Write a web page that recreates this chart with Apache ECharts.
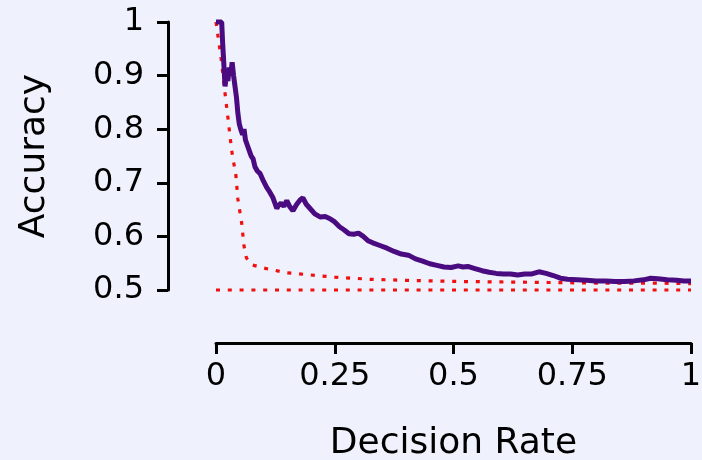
<!DOCTYPE html>
<html>
<head>
<meta charset="utf-8">
<script src="https://cdn.jsdelivr.net/npm/echarts@6/dist/echarts.min.js"></script>
<style>
html,body{margin:0;padding:0;background:#eff1fc;}
#c{width:702px;height:460px;}
</style>
</head>
<body>
<div id="c"></div>
<script>
// Accuracy vs decision rate (model)
const modelX = [0,0.012,0.014,0.016,0.019,0.022,0.025,0.028,0.031,0.034,0.037,0.040,0.043,0.046,0.049,0.052,0.056,0.059,0.062,0.066,0.070,0.074,0.078,0.082,0.087,0.093,0.100,0.107,0.113,0.120,0.128,0.131,0.137,0.143,0.149,0.155,0.162,0.170,0.177,0.183,0.190,0.198,0.208,0.220,0.230,0.240,0.250,0.260,0.270,0.280,0.290,0.300,0.310,0.320,0.330,0.345,0.360,0.375,0.390,0.405,0.420,0.435,0.450,0.465,0.480,0.495,0.510,0.520,0.530,0.545,0.560,0.575,0.590,0.605,0.620,0.635,0.650,0.665,0.680,0.695,0.710,0.725,0.740,0.760,0.780,0.800,0.820,0.840,0.860,0.880,0.900,0.915,0.930,0.950,0.970,0.985,1.0];
const modelY = [1,1,0.96,0.93,0.88,0.90,0.89,0.915,0.90,0.925,0.90,0.88,0.86,0.83,0.81,0.80,0.79,0.80,0.78,0.77,0.76,0.75,0.745,0.73,0.722,0.717,0.703,0.691,0.683,0.672,0.652,0.657,0.662,0.656,0.667,0.656,0.648,0.660,0.668,0.672,0.660,0.652,0.642,0.636,0.637,0.633,0.627,0.618,0.612,0.605,0.604,0.606,0.600,0.592,0.588,0.583,0.578,0.572,0.567,0.565,0.558,0.554,0.549,0.546,0.543,0.542,0.545,0.543,0.544,0.540,0.536,0.533,0.531,0.530,0.530,0.528,0.530,0.530,0.534,0.531,0.527,0.522,0.520,0.519,0.518,0.517,0.517,0.516,0.516,0.517,0.519,0.522,0.521,0.519,0.518,0.517,0.517];
// Reference curve (red dotted)
const refX = [0,0.011,0.019,0.025,0.033,0.042,0.046,0.054,0.059,0.064,0.075,0.100,0.150,0.200,0.250,0.325,0.400,0.500,0.600,0.700,0.800,0.900,1.0];
const refY = [1,0.93,0.867,0.822,0.76,0.713,0.67,0.625,0.582,0.56,0.547,0.541,0.532,0.528,0.524,0.520,0.518,0.516,0.515,0.514,0.513,0.513,0.512];
// Chance baseline
const chanceX = [0, 1];
const chanceY = [0.5, 0.5];
const xTicks = [0, 0.25, 0.5, 0.75, 1];
const yTicks = [0.5, 0.6, 0.7, 0.8, 0.9, 1];

const zip = (xs, ys) => xs.map((x, i) => [x, ys[i]]);
const FONT = 'DejaVu Sans';
const chart = echarts.init(document.getElementById('c'), null, {renderer: 'canvas'});
chart.setOption({
  backgroundColor: '#eff1fc',
  animation: false,
  grid: {left: 216, right: 11, top: 22, bottom: 170, containLabel: false, outerBoundsMode: 'none'},
  xAxis: {
    type: 'value', min: xTicks[0], max: xTicks[xTicks.length-1], interval: 0.25,
    offset: 53,
    name: 'Decision Rate', nameLocation: 'middle', nameGap: 83,
    nameTextStyle: {fontFamily: FONT, fontSize: 36, color: '#000'},
    axisLine: {show: true, onZero: false, lineStyle: {color: '#000', width: 3}},
    axisTick: {show: true, length: 11, lineStyle: {color: '#000', width: 3}},
    axisLabel: {fontFamily: FONT, fontSize: 32, color: '#000', margin: 18,
      formatter: v => String(+v.toFixed(2))},
    splitLine: {show: false}
  },
  yAxis: {
    type: 'value', min: yTicks[0], max: yTicks[yTicks.length-1], interval: 0.1,
    offset: 48,
    name: 'Accuracy', nameLocation: 'middle', nameGap: 115,
    nameTextStyle: {fontFamily: FONT, fontSize: 36, color: '#000'},
    axisLine: {show: true, onZero: false, lineStyle: {color: '#000', width: 3}},
    axisTick: {show: true, length: 11, lineStyle: {color: '#000', width: 3}},
    axisLabel: {fontFamily: FONT, fontSize: 32, color: '#000', margin: 24,
      formatter: v => String(+v.toFixed(2))},
    splitLine: {show: false}
  },
  series: [
    {type: 'line', data: zip(chanceX, chanceY), symbol: 'none', clip: false,
     lineStyle: {color: '#f01010', width: 3.2, type: [4, 7.8], cap: 'butt'}},
    {type: 'line', data: zip(refX, refY), symbol: 'none', clip: false,
     lineStyle: {color: '#f01010', width: 3.2, type: [4, 7.8], cap: 'butt'}},
    {type: 'line', data: zip(modelX, modelY), symbol: 'none', clip: false,
     lineStyle: {color: '#4a0a80', width: 5}}
  ]
});
</script>
</body>
</html>
